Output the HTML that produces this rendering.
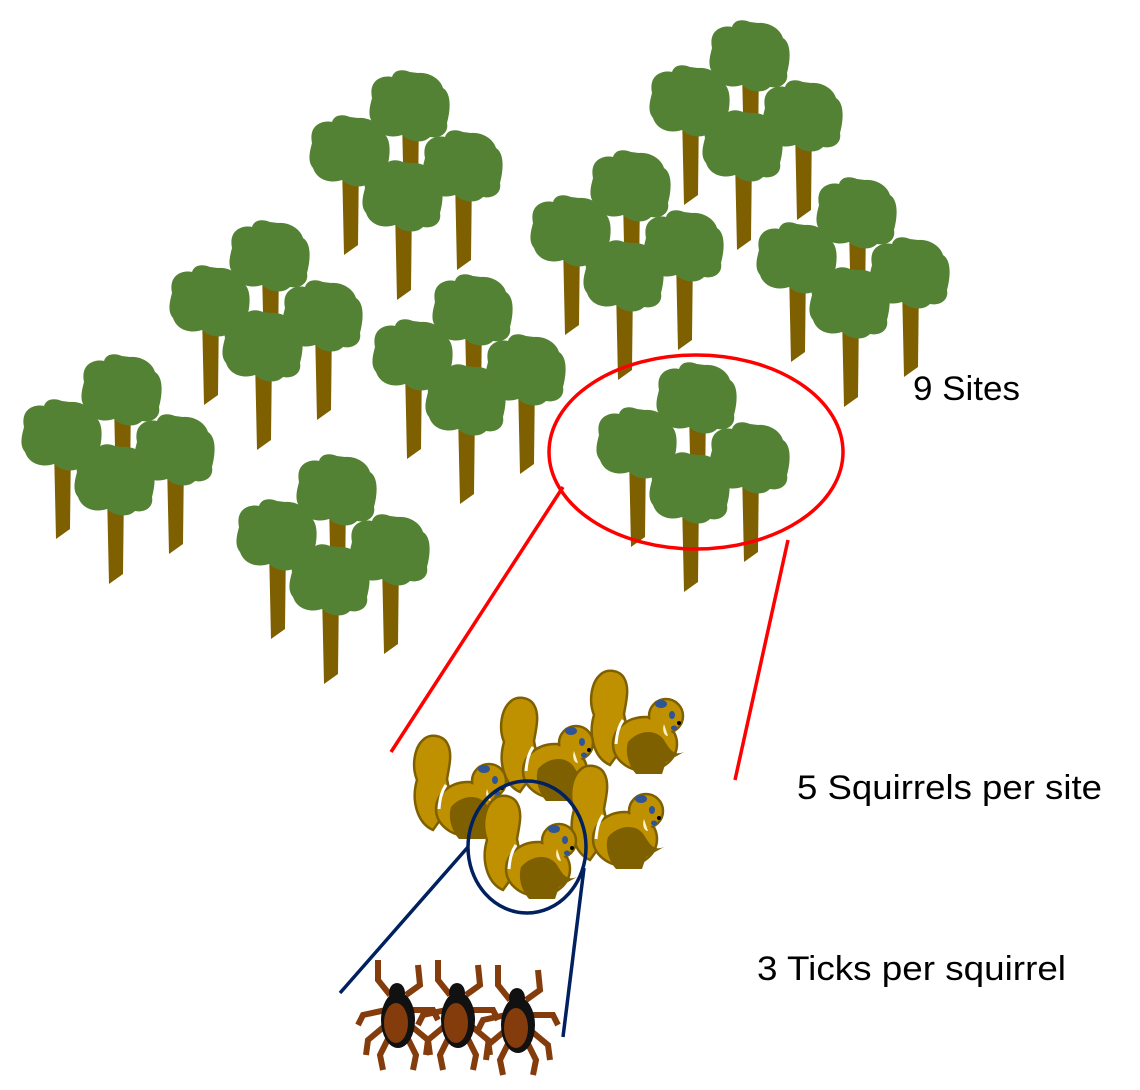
<!DOCTYPE html>
<html><head><meta charset="utf-8"><style>
html,body{margin:0;padding:0;background:#fff}
svg{display:block}
text{font-family:"Liberation Sans","DejaVu Sans",sans-serif;font-size:34px;fill:#000}
</style></head><body>
<svg width="1140" height="1090" viewBox="0 0 1140 1090" xmlns="http://www.w3.org/2000/svg">
<defs>
<g id="tree">
  <path d="M-8,10 L9,5 L8,92 L-6,102 Z" fill="#7f6000"/>
  <path d="M-38,-10 C-42,-30 -25,-33 -18,-31 C-15,-40 -5,-38 0,-36 L8,-35 C18,-36 30,-30 33,-20 C41,-15 41,0 37,15 C39,25 30,31 20,29 C12,37 -2,33 -8,27 C-20,31 -33,27 -37,15 C-43,8 -40,-2 -38,-10 Z" fill="#548235"/>
</g>
<g id="cl">
  <use href="#tree"/>
  <use href="#tree" x="-60" y="45"/>
  <use href="#tree" x="53" y="60"/>
  <use href="#tree" x="-7" y="90"/>
</g>
<g id="sq">
  <g fill="#bf9000" stroke="#7f6000" stroke-width="2.5">
    <path d="M20,95 C4,88 -2,65 4,45 C-2,30 2,12 10,5 C16,-2 30,0 34,8 C40,18 36,32 34,44 C36,55 38,62 42,64 Z"/>
    <ellipse cx="55" cy="74" rx="32" ry="27"/>
    <circle cx="76" cy="46" r="17"/>
  </g>
  <ellipse cx="55" cy="74" rx="30" ry="25" fill="#bf9000"/>
  <path d="M38,72 C48,60 66,58 74,70 C80,80 84,86 94,82 L76,92 L72,104 L46,104 C38,95 35,82 38,72 Z" fill="#7f6000"/>
  <path d="M26,74 C27,62 29,56 33,50" stroke="#fff" stroke-width="3" fill="none"/>
  <ellipse cx="71" cy="34" rx="6" ry="4" fill="#2f5597"/>
  <ellipse cx="82" cy="45" rx="3" ry="4" fill="#2f5597"/>
  <ellipse cx="84" cy="58" rx="3" ry="2.5" fill="#2f5597"/>
  <path d="M74,54 C72,60 74,66 78,66 Z" fill="#fff2cc"/>
  <circle cx="89" cy="53" r="2" fill="#000"/>
</g>
<g id="tick">
  <g stroke="#843c0c" stroke-width="6" fill="none">
    <path d="M-8,-20 L-20,-35 L-20,-55"/>
    <path d="M8,-20 L22,-30 L20,-50"/>
    <path d="M-12,-5 L-35,0 L-40,10"/>
    <path d="M12,-5 L35,-5 L40,5"/>
    <path d="M-12,10 L-30,25 L-32,40"/>
    <path d="M12,10 L30,25 L32,40"/>
    <path d="M-8,20 L-18,40 L-15,55"/>
    <path d="M8,20 L18,40 L15,55"/>
  </g>
  <ellipse cx="0" cy="5" rx="17" ry="28" fill="#111"/>
  <ellipse cx="-1" cy="-22" rx="8" ry="10" fill="#111"/>
  <ellipse cx="-2" cy="8" rx="12" ry="20" fill="#843c0c"/>
</g>
</defs>
<use href="#cl" x="750" y="58"/>
<use href="#cl" x="410" y="108"/>
<use href="#cl" x="631" y="188"/>
<use href="#cl" x="857" y="215"/>
<use href="#cl" x="270" y="258"/>
<use href="#cl" x="473" y="312"/>
<use href="#cl" x="122" y="392"/>
<use href="#cl" x="697" y="400"/>
<use href="#cl" x="337" y="492"/>

<ellipse cx="696" cy="452" rx="147" ry="97" fill="none" stroke="#ff0000" stroke-width="3.5"/>
<line x1="563" y1="487" x2="391" y2="752" stroke="#ff0000" stroke-width="3.5"/>
<line x1="788" y1="540" x2="735" y2="780" stroke="#ff0000" stroke-width="3.5"/>

<use href="#sq" x="590" y="670"/>
<use href="#sq" x="500" y="697"/>
<use href="#sq" x="413" y="735"/>
<use href="#sq" x="570" y="765"/>
<use href="#sq" x="483" y="795"/>

<ellipse cx="527" cy="847" rx="59" ry="66" fill="none" stroke="#002060" stroke-width="3.5"/>
<line x1="468" y1="847" x2="340" y2="993" stroke="#002060" stroke-width="3.5"/>
<line x1="584" y1="868" x2="563" y2="1037" stroke="#002060" stroke-width="3.5"/>

<use href="#tick" x="398" y="1015"/>
<use href="#tick" x="458" y="1015"/>
<use href="#tick" x="518" y="1020"/>

<text x="913" y="400" textLength="107" lengthAdjust="spacingAndGlyphs">9 Sites</text>
<text x="797" y="799" textLength="305" lengthAdjust="spacingAndGlyphs">5 Squirrels per site</text>
<text x="757" y="980" textLength="309" lengthAdjust="spacingAndGlyphs">3 Ticks per squirrel</text>
</svg>
</body></html>
